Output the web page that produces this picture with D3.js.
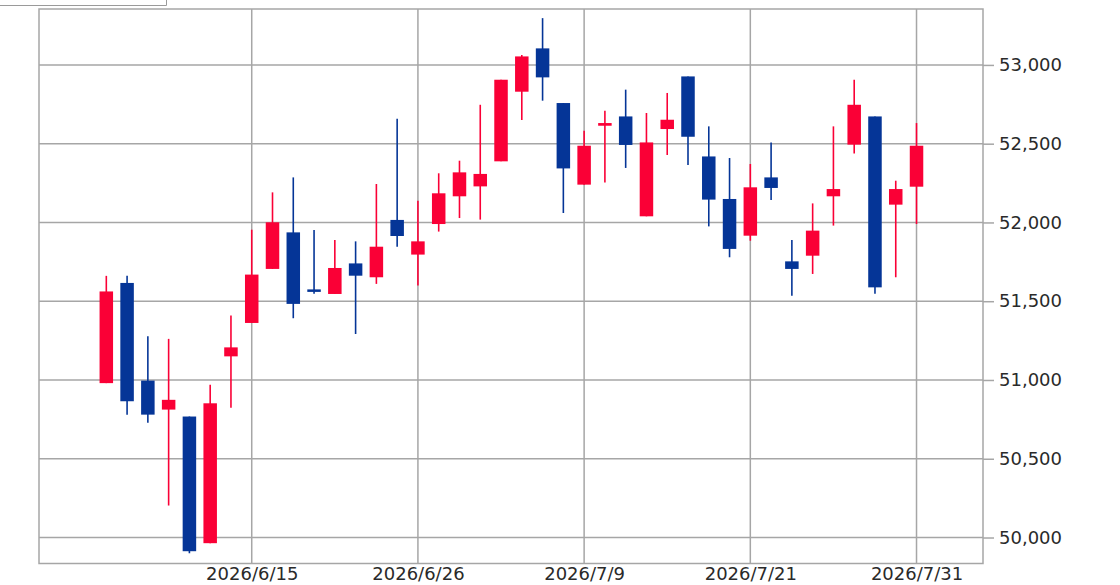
<!DOCTYPE html>
<html><head><meta charset="utf-8">
<script src="https://cdn.jsdelivr.net/npm/d3@7"></script>
<style>body{margin:0;background:#fff;}svg{display:block;}</style>
</head><body>
<svg id="c" width="1120" height="585"></svg>
<script>
const dates = ["2026/6/4","2026/6/5","2026/6/8","2026/6/9","2026/6/10","2026/6/11","2026/6/12","2026/6/15",
"2026/6/16","2026/6/17","2026/6/18","2026/6/19","2026/6/23","2026/6/24","2026/6/25","2026/6/26",
"2026/6/29","2026/6/30","2026/7/2","2026/7/3","2026/7/6","2026/7/7","2026/7/8","2026/7/9",
"2026/7/10","2026/7/13","2026/7/14","2026/7/15","2026/7/16","2026/7/17","2026/7/20","2026/7/21",
"2026/7/22","2026/7/23","2026/7/24","2026/7/27","2026/7/28","2026/7/29","2026/7/30","2026/7/31"];
const open  = [50980,51616,50996,50812,50768,49964,51150,51362,51705,51937,51575,51546,51740,51652,52016,51796,
51990,52166,52229,52388,52830,53105,52758,52240,52614,52673,52039,52593,52927,52419,52149,51916,
52286,51753,51789,52166,52494,52673,52113,52227];
const high  = [51661,51662,51277,51261,50768,50969,51409,51954,52191,52286,51952,51889,51880,52244,52659,52138,
52312,52392,52747,52906,53063,53297,52758,52582,52709,52843,52695,52822,52927,52610,52409,52371,
52508,51889,52121,52610,52906,52673,52265,52631];
const low   = [50980,50780,50728,50203,49900,49964,50823,51362,51705,51392,51548,51546,51292,51610,51846,51599,
51942,52028,52018,52388,52650,52773,52060,52240,52254,52346,52039,52428,52365,51975,51779,51884,
52143,51535,51673,51980,52438,51548,51652,51990];
const close = [51562,50865,50780,50874,49913,50852,51207,51669,52001,51483,51560,51711,51662,51846,51914,51880,
52185,52318,52308,52906,53054,52921,52343,52487,52631,52492,52508,52652,52544,52145,51832,52223,
52219,51705,51948,52212,52747,51588,52212,52487];
const xTickLabels = ["2026/6/15","2026/6/26","2026/7/9","2026/7/21","2026/7/31"];
const yTicks = [50000,50500,51000,51500,52000,52500,53000];

const data = dates.map((d,i)=>({i, date:d, o:open[i], h:high[i], l:low[i], c:close[i]}));

const L=39, R=983, T=9, B=563.5;
const svg = d3.select("#c");
const x = d3.scaleLinear().domain([-3.24, 42.2]).range([L, R]);
const y = d3.scaleLinear().domain([49835, 53355]).range([B, T]);
const UP="#fa0036", DOWN="#053597", GRID="#a6a6a6";

// top-left artifact line
svg.append("path").attr("d","M0,5.5H166.5V0").attr("fill","none").attr("stroke","#9a9a9a").attr("stroke-width",1);

// grid
const g = svg.append("g");
g.selectAll("line.hy").data(yTicks).join("line")
  .attr("x1",L).attr("x2",R).attr("y1",d=>y(d)).attr("y2",d=>y(d))
  .attr("stroke",GRID).attr("stroke-width",1.5);
const tickIdx = xTickLabels.map(s=>dates.indexOf(s));
g.selectAll("line.vx").data(tickIdx).join("line")
  .attr("x1",d=>x(d)).attr("x2",d=>x(d)).attr("y1",T).attr("y2",B)
  .attr("stroke",GRID).attr("stroke-width",1.5);

// border
svg.append("rect").attr("x",L).attr("y",T).attr("width",R-L).attr("height",B-T)
  .attr("fill","none").attr("stroke",GRID).attr("stroke-width",1.5);

// axes
const ya = svg.append("g").attr("transform",`translate(${R},0)`)
  .call(d3.axisRight(y).tickValues(yTicks).tickFormat(d3.format(",")).tickSize(11).tickPadding(5));
ya.select(".domain").remove();
ya.selectAll("line").attr("stroke",GRID).attr("stroke-width",1.5);
ya.selectAll("text").attr("font-family","DejaVu Sans").attr("font-size",18).attr("fill","#2a2a2a");

const xa = svg.append("g").attr("transform",`translate(0,${B})`)
  .call(d3.axisBottom(x).tickValues(tickIdx).tickFormat(i=>dates[i]).tickSize(0).tickPadding(4));
xa.select(".domain").remove();
xa.selectAll("text").attr("font-family","DejaVu Sans").attr("font-size",18).attr("fill","#2a2a2a");

// candles
const bw = 13.5;
const cg = svg.append("g");
cg.selectAll("line.w").data(data).join("line")
  .attr("x1",d=>x(d.i)).attr("x2",d=>x(d.i)).attr("y1",d=>y(d.h)).attr("y2",d=>y(d.l))
  .attr("stroke",d=>d.c>=d.o?UP:DOWN).attr("stroke-width",1.6);
cg.selectAll("rect.b").data(data).join("rect")
  .attr("x",d=>x(d.i)-bw/2).attr("width",bw)
  .attr("y",d=>y(Math.max(d.o,d.c)))
  .attr("height",d=>Math.max(2.5, Math.abs(y(d.o)-y(d.c))))
  .attr("fill",d=>d.c>=d.o?UP:DOWN);
</script>
</body></html>
